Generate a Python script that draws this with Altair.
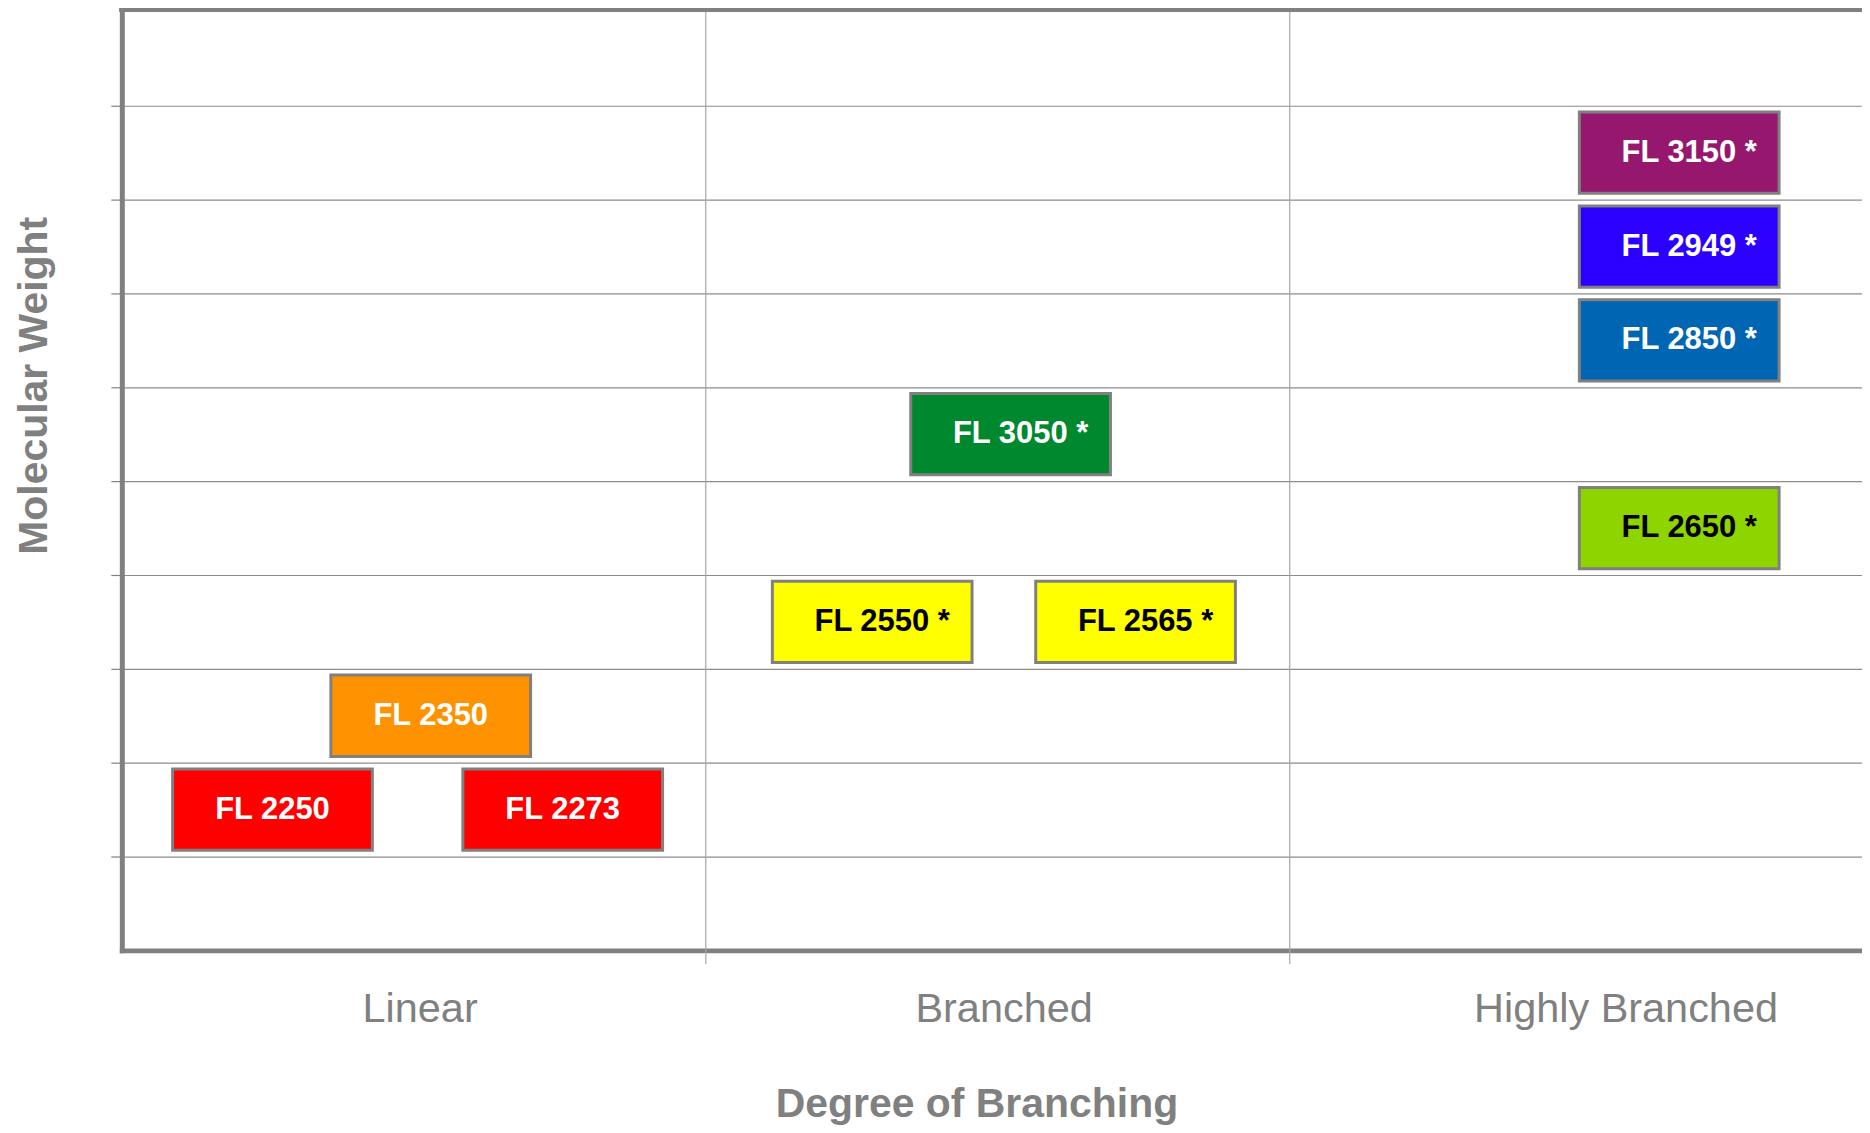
import altair as alt
import pandas as pd

# ---- data ----
labels = ["FL 2250", "FL 2273", "FL 2350", "FL 2550 *", "FL 2565 *",
          "FL 3050 *", "FL 2650 *", "FL 2850 *", "FL 2949 *", "FL 3150 *"]
branching = [0.258, 0.755, 0.529, 1.285, 1.736, 1.522, 2.667, 2.667, 2.667, 2.667]
weight = [1.5, 1.5, 2.5, 3.5, 3.5, 5.5, 4.5, 6.5, 7.5, 8.5]
fills = ["#FF0000", "#FF0000", "#FF9200", "#FFFF00", "#FFFF00",
         "#00882F", "#8ED500", "#0066B3", "#2B00FF", "#96176E"]
text_colors = ["#FFFFFF", "#FFFFFF", "#FFFFFF", "#000000", "#000000",
               "#FFFFFF", "#000000", "#FFFFFF", "#FFFFFF", "#FFFFFF"]

categories = ["Linear", "Branched", "Highly Branched"]
category_pos = [0.51, 1.51, 2.575]
dividers = [1, 2]
weight_grid = [1, 2, 3, 4, 5, 6, 7, 8, 9]

# ---- layout / style constants ----
W, H = 1743, 940
GRAY = "#808080"
FONT = "Liberation Sans"
BOX_HW, BOX_HH = 0.171, 0.433

df = pd.DataFrame({"label": labels, "bx": branching, "mw": weight,
                   "fill": fills, "tc": text_colors})
df["starred"] = df["label"].str.endswith("*")
div_df = pd.DataFrame({"bx": dividers})

label_expr = " : ".join(
    f"datum.value < {i + 1} ? '{c}'" for i, c in enumerate(categories[:-1])
) + f" : '{categories[-1]}'"

xscale = alt.Scale(domain=[0, 2.98], nice=False, zero=False)
yscale = alt.Scale(domain=[0, 10], nice=False, zero=False)

x_axis = alt.Axis(values=category_pos, labelExpr=label_expr, ticks=False, tickSize=0,
                  grid=False, domainWidth=5, domainColor=GRAY, domainCap="square",
                  labelFont=FONT, labelFontSize=41.5, labelColor=GRAY, labelLimit=0,
                  labelPadding=71, labelBaseline="alphabetic", labelAlign="center",
                  labelOverlap=False,
                  title="Degree of Branching", titleFont=FONT, titleFontSize=41,
                  titleFontWeight="bold", titleColor=GRAY, titleX=856, titleY=166,
                  titleAlign="center", titleBaseline="alphabetic")
y_axis = alt.Axis(values=weight_grid, labels=False, ticks=True, tickSize=11,
                  tickColor=GRAY, tickWidth=1.2, grid=True, gridColor="#8c8c8c",
                  gridWidth=1.2, domainWidth=5, domainColor=GRAY, domainCap="square",
                  title="Molecular Weight", titleFont=FONT, titleFontSize=41,
                  titleFontWeight="bold", titleColor=GRAY, titleX=-75, titleY=374,
                  titleAngle=270, titleAlign="center", titleBaseline="alphabetic")

X = alt.X("bx:Q", scale=xscale, axis=x_axis)
Y = alt.Y("mw:Q", scale=yscale, axis=y_axis)

div_rules = alt.Chart(div_df).mark_rule(color="#a6a6a6", strokeWidth=1.2).encode(
    x=X, y=alt.value(0), y2=alt.value(H + 14))

top_border = alt.Chart(div_df).mark_rule(color=GRAY, strokeWidth=5).encode(
    x=alt.value(-2.5), x2=alt.value(W), y=alt.value(-2.5))

boxes = alt.Chart(df).transform_calculate(
    x0=f"datum.bx - {BOX_HW}", x1=f"datum.bx + {BOX_HW}",
    y0=f"datum.mw - {BOX_HH}", y1=f"datum.mw + {BOX_HH}"
).mark_rect(stroke=GRAY, strokeWidth=3).encode(
    x=alt.X("x0:Q", scale=xscale, axis=x_axis), x2="x1:Q",
    y=alt.Y("y0:Q", scale=yscale, axis=y_axis), y2="y1:Q",
    fill=alt.Fill("fill:N", scale=None))

text_plain = alt.Chart(df).transform_filter("!datum.starred").mark_text(
    font=FONT, fontSize=31, fontWeight="bold", align="center", baseline="middle"
).encode(x=X, y=Y, text="label:N", color=alt.Color("tc:N", scale=None))

text_star = alt.Chart(df).transform_filter("datum.starred").mark_text(
    font=FONT, fontSize=31, fontWeight="bold", align="center", baseline="middle", dx=10
).encode(x=X, y=Y, text="label:N", color=alt.Color("tc:N", scale=None))

chart = alt.layer(div_rules, top_border, boxes, text_plain, text_star).properties(
    width=W, height=H,
    autosize=alt.AutoSizeParams(type="none"),
    padding={"left": 114, "top": 3, "right": 0, "bottom": 174},
    background="white",
).configure_view(stroke=None)

chart.save("out.html", embed_options={"renderer": "svg", "actions": False})
